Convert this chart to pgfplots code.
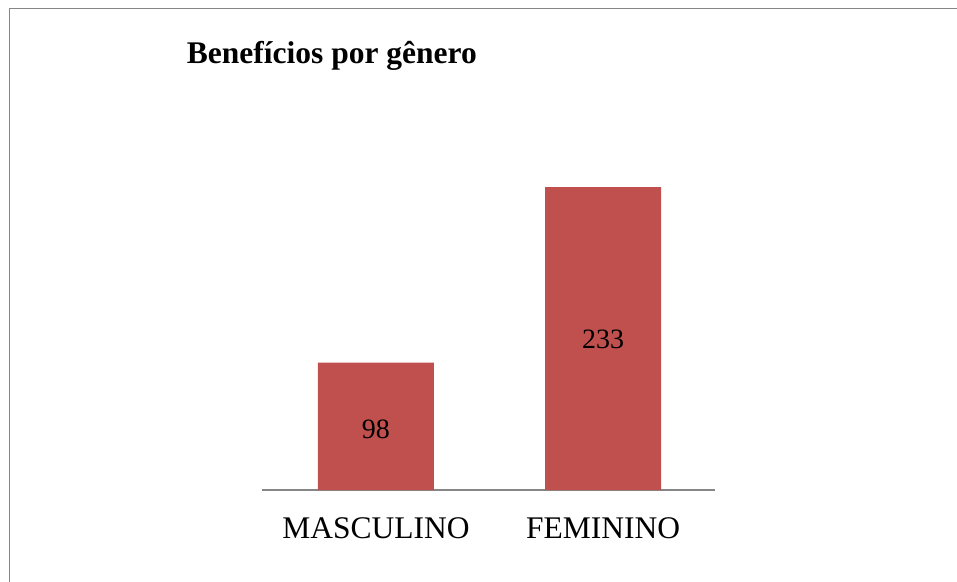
\documentclass[border=0pt]{standalone}
\usepackage{fontspec}
\setmainfont{Liberation Serif}
\usepackage{pgfplots}
\pgfplotsset{compat=1.18}
\definecolor{barred}{RGB}{192,80,77}
\definecolor{framegray}{RGB}{134,134,134}
\begin{document}
\begin{tikzpicture}
\path[use as bounding box] (0,0) rectangle (957pt,581pt);
\draw[framegray, line width=1.7pt] (9.5pt,-2pt) -- (9.5pt,572.5pt) -- (960pt,572.5pt);
\node[anchor=base west, inner sep=0pt, font=\bfseries\fontsize{31.5}{36}\selectfont] at (186.7pt,517.7pt) {Benefícios por gênero};
\begin{axis}[
  at={(262pt,91pt)}, anchor=south west,
  scale only axis, width=453pt, height=390pt,
  xmin=-0.502, xmax=1.493, ymin=0, ymax=300,
  axis x line*=bottom, axis y line=none,
  x axis line style={draw=framegray, line width=2pt, -},
  xtick={0,1}, xticklabels={MASCULINO,FEMININO},
  major tick length=0pt, xtick style={draw=none},
  xticklabel style={anchor=base, yshift=-48pt, font=\fontsize{31.5}{36}\selectfont},
  ytick=\empty,
  clip=false,
]
\addplot[ybar, bar width=116pt, fill=barred, draw=none] coordinates {(0,98) (1,233)};
\addplot[draw=none, mark=none, forget plot, nodes near coords, point meta=explicit symbolic,
  nodes near coords style={anchor=center, font=\fontsize{28}{32}\selectfont, text=black}]
  coordinates {(0,46.9)[98] (1,115.9)[233]};
\end{axis}
\end{tikzpicture}
\end{document}
